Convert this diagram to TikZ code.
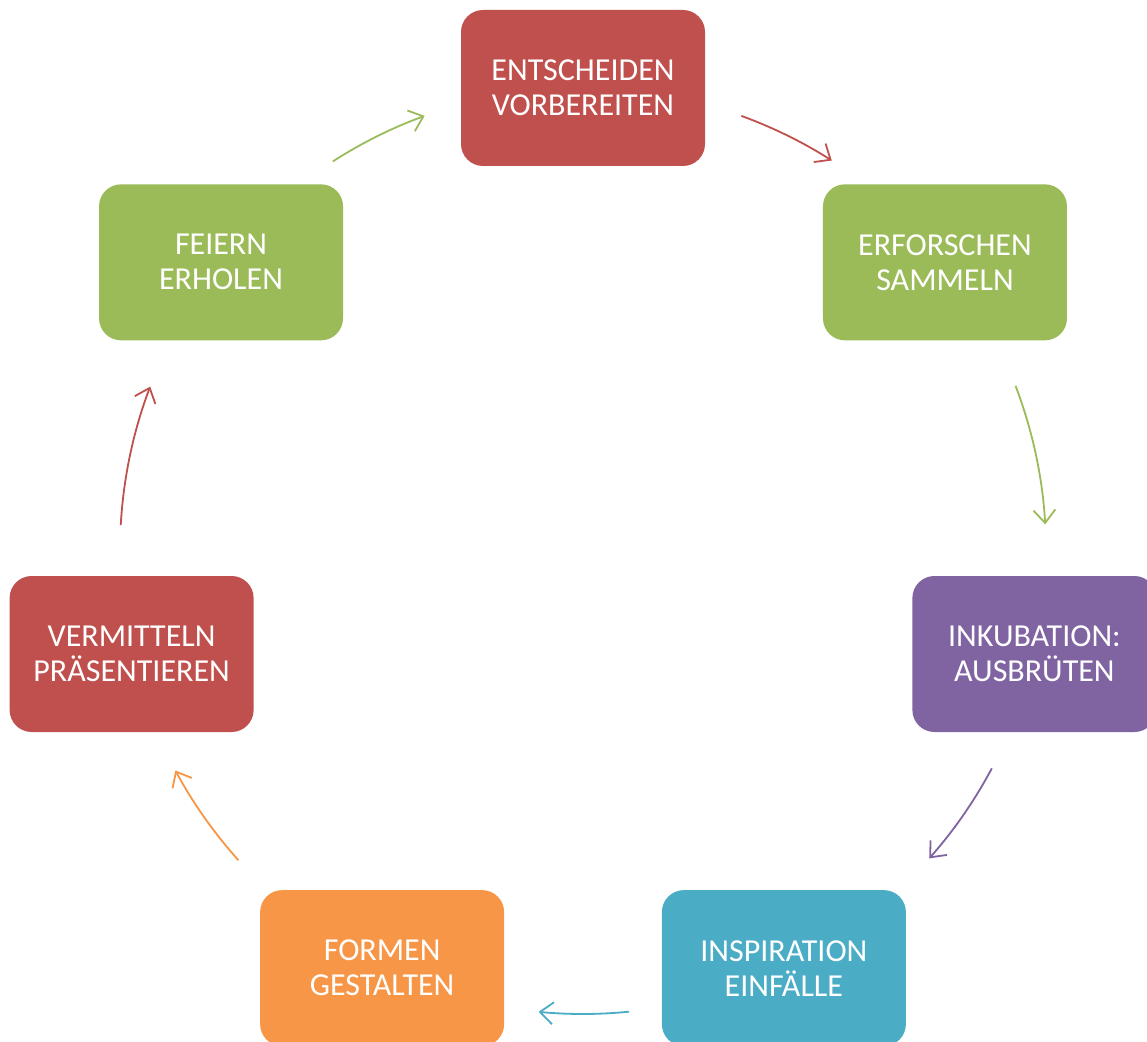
\documentclass[tikz,border=0pt]{standalone}
\usepackage{fontspec}
\setmainfont{Carlito}
\usetikzlibrary{arrows.meta}
\definecolor{cred}{HTML}{C0504D}
\definecolor{cgreen}{HTML}{9BBB59}
\definecolor{cpurple}{HTML}{8064A2}
\definecolor{cteal}{HTML}{4BACC6}
\definecolor{corange}{HTML}{F79646}
\tikzset{
  stepbox/.style={rounded corners=22pt, minimum width=244pt, minimum height=156pt,
    inner sep=0pt, text=white, align=center, draw=none,
    font=\fontsize{32}{35}\selectfont},
  cyc/.style={line width=1.8pt, -{Straight Barb[length=13pt,width=22pt,line width=1.8pt]}}
}
\begin{document}
\begin{tikzpicture}[x=1pt,y=1pt]
\clip (0,0) rectangle (1147,1041);
\fill[white] (0,0) rectangle (1147,1041);
\coordinate (c) at (583,490);
\def\R{463}
\node[stepbox, fill=cred]    (n1) at ([shift={(90:\R)}]c) {ENTSCHEIDEN\\VORBEREITEN};
\node[stepbox, fill=cgreen]  (n2) at ([shift={(38.571:\R)}]c) {ERFORSCHEN\\SAMMELN};
\node[stepbox, fill=cpurple] (n3) at ([shift={(-12.857:\R)}]c) {INKUBATION:\\AUSBRÜTEN};
\node[stepbox, fill=cteal]   (n4) at ([shift={(-64.286:\R)}]c) {INSPIRATION\\EINFÄLLE};
\node[stepbox, fill=corange] (n5) at ([shift={(-115.714:\R)}]c) {FORMEN\\GESTALTEN};
\node[stepbox, fill=cred]    (n6) at ([shift={(-167.143:\R)}]c) {VERMITTELN\\PRÄSENTIEREN};
\node[stepbox, fill=cgreen]  (n7) at ([shift={(141.429:\R)}]c) {FEIERN\\ERHOLEN};
% arrow start points
\coordinate (a1) at ([shift={(70:\R)}]c);
\coordinate (a2) at ([shift={(20.9:\R)}]c);
\coordinate (a3) at ([shift={(-28:\R)}]c);
\coordinate (a4) at ([shift={(-84.3:\R)}]c);
\coordinate (a5) at ([shift={(-138.1:\R)}]c);
\coordinate (a6) at ([shift={(176.8:\R)}]c);
\coordinate (a7) at ([shift={(122.7:\R)}]c);
\draw[cyc, cred]    (a1) arc[start angle=70,   end angle=57.5,   radius=\R];
\draw[cyc, cgreen]  (a2) arc[start angle=20.9, end angle=3.3,    radius=\R];
\draw[cyc, cpurple] (a3) arc[start angle=-28,  end angle=-41.6,  radius=\R];
\draw[cyc, cteal]   (a4) arc[start angle=-84.3, end angle=-95.5, radius=\R];
\draw[cyc, corange] (a5) arc[start angle=-138.1, end angle=-151.7, radius=\R];
\draw[cyc, cred]    (a6) arc[start angle=176.8, end angle=159.2, radius=\R];
\draw[cyc, cgreen]  (a7) arc[start angle=122.7, end angle=110,   radius=\R];
\end{tikzpicture}
\end{document}
